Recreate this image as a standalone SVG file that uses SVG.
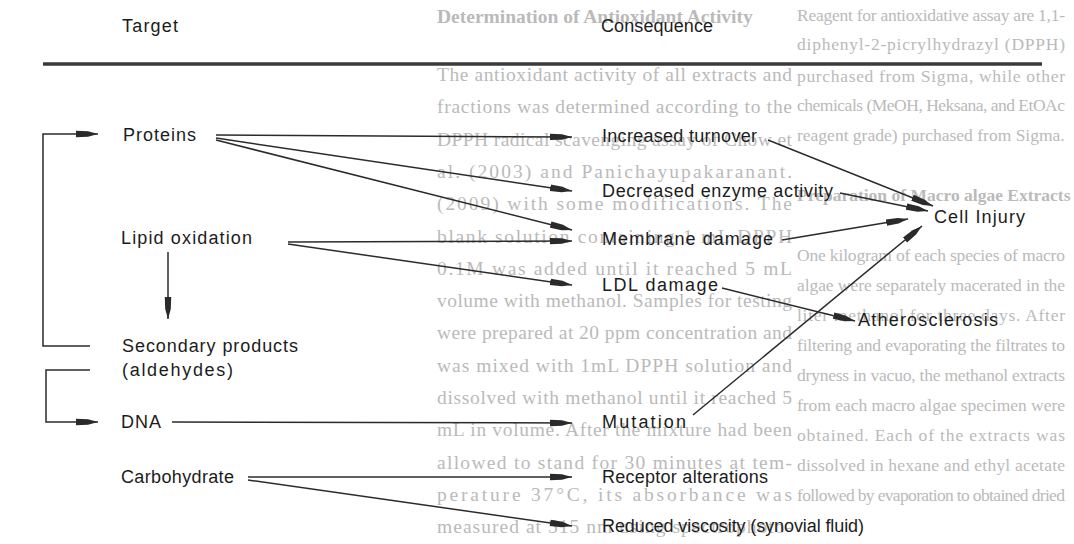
<svg xmlns="http://www.w3.org/2000/svg" width="1074" height="544" viewBox="0 0 1074 544">
<style>
.bgl{font-family:"Liberation Serif","Times New Roman",serif;font-size:19.5px;fill:#bababa}
.bgr{font-family:"Liberation Serif","Times New Roman",serif;font-size:17.5px;fill:#bababa}
.bh{font-weight:bold}
.lbl{font-family:"Liberation Sans",Arial,sans-serif;font-size:18px;fill:#1c1c1c}
.cn{fill:none;stroke:#2b2b2b;stroke-width:1.5;marker-end:url(#ah)}
</style>
<defs>
<marker id="ah" viewBox="0 0 22 10" refX="22" refY="5" markerWidth="22" markerHeight="10" markerUnits="userSpaceOnUse" orient="auto">
<path d="M0,1.8 L12,2.2 L22,5 L12,7.8 L0,8.2 Z" fill="#2a2a2a"/>
</marker>
</defs>
<rect width="1074" height="544" fill="#ffffff"/>
<g id="page-text">
<text class="bgl bh" x="437" y="23">Determination of Antioxidant Activity</text>
<text class="bgl" x="437" y="81" textLength="355" lengthAdjust="spacing">The antioxidant activity of all extracts and</text>
<text class="bgl" x="437" y="113.3" textLength="355" lengthAdjust="spacing">fractions was determined according to the</text>
<text class="bgl" x="437" y="145.6" textLength="355" lengthAdjust="spacing">DPPH radical scavenging assay of Chow et</text>
<text class="bgl" x="437" y="177.9" textLength="355" lengthAdjust="spacing">al. (2003) and Panichayupakaranant.</text>
<text class="bgl" x="437" y="210.2" textLength="355" lengthAdjust="spacing">(2009) with some modifications. The</text>
<text class="bgl" x="437" y="242.5" textLength="355" lengthAdjust="spacing">blank solution containing 1 mL DPPH</text>
<text class="bgl" x="437" y="274.8" textLength="355" lengthAdjust="spacing">0.1M was added until it reached 5 mL</text>
<text class="bgl" x="437" y="307.1" textLength="355" lengthAdjust="spacing">volume with methanol. Samples for testing</text>
<text class="bgl" x="437" y="339.4" textLength="355" lengthAdjust="spacing">were prepared at 20 ppm concentration and</text>
<text class="bgl" x="437" y="371.7" textLength="355" lengthAdjust="spacing">was mixed with 1mL DPPH solution and</text>
<text class="bgl" x="437" y="404" textLength="355" lengthAdjust="spacing">dissolved with methanol until it reached 5</text>
<text class="bgl" x="437" y="436.3" textLength="355" lengthAdjust="spacing">mL in volume. After the mixture had been</text>
<text class="bgl" x="437" y="468.6" textLength="355" lengthAdjust="spacing">allowed to stand for 30 minutes at tem-</text>
<text class="bgl" x="437" y="500.9" textLength="355" lengthAdjust="spacing">perature 37°C, its absorbance was</text>
<text class="bgl" x="437" y="533.2" textLength="355" lengthAdjust="spacing">measured at 515 nm using spectrophoto-</text>
<text class="bgr" x="797" y="21" textLength="268" lengthAdjust="spacing">Reagent for antioxidative assay are 1,1-</text>
<text class="bgr" x="797" y="50" textLength="268" lengthAdjust="spacing">diphenyl-2-picrylhydrazyl (DPPH)</text>
<text class="bgr" x="797" y="82" textLength="268" lengthAdjust="spacing">purchased from Sigma, while other</text>
<text class="bgr" x="797" y="111" textLength="268" lengthAdjust="spacing">chemicals (MeOH, Heksana, and EtOAc</text>
<text class="bgr" x="797" y="141">reagent grade) purchased from Sigma.</text>
<text class="bgr bh" x="797" y="201">Preparation of Macro algae Extracts</text>
<text class="bgr" x="797" y="261" textLength="268" lengthAdjust="spacing">One kilogram of each species of macro</text>
<text class="bgr" x="797" y="291" textLength="268" lengthAdjust="spacing">algae were separately macerated in the</text>
<text class="bgr" x="797" y="321" textLength="268" lengthAdjust="spacing">liter methanol for three days. After</text>
<text class="bgr" x="797" y="351" textLength="268" lengthAdjust="spacing">filtering and evaporating the filtrates to</text>
<text class="bgr" x="797" y="381" textLength="268" lengthAdjust="spacing">dryness in vacuo, the methanol extracts</text>
<text class="bgr" x="797" y="411" textLength="268" lengthAdjust="spacing">from each macro algae specimen were</text>
<text class="bgr" x="797" y="441" textLength="268" lengthAdjust="spacing">obtained. Each of the extracts was</text>
<text class="bgr" x="797" y="471" textLength="268" lengthAdjust="spacing">dissolved in hexane and ethyl acetate</text>
<text class="bgr" x="797" y="501" textLength="268" lengthAdjust="spacing">followed by evaporation to obtained dried</text>
</g>
<g id="header">
<text class="lbl" x="122" y="32" textLength="56" lengthAdjust="spacing">Target</text>
<text class="lbl" x="601" y="32" textLength="112" lengthAdjust="spacing">Consequence</text>
<line x1="43" y1="64" x2="1042" y2="64" stroke="#3a3a3a" stroke-width="3.5"/>
</g>
<g id="connectors">
<path class="cn" d="M90,346 H43 V134 H98"/>
<path class="cn" d="M90,370 H46 V422 H98"/>
<path class="cn" d="M168,252 V319"/>
<path class="cn" d="M216,135 L572,137"/>
<path class="cn" d="M216,138 L572,191"/>
<path class="cn" d="M216,140 L572,230"/>
<path class="cn" d="M288,242 L572,241"/>
<path class="cn" d="M288,244 L572,285"/>
<path class="cn" d="M172,422 L572,423"/>
<path class="cn" d="M248,477 L572,477"/>
<path class="cn" d="M248,480 L572,526"/>
<path class="cn" d="M768,140 L933,206"/>
<path class="cn" d="M840,193 L928,211"/>
<path class="cn" d="M782,240 L908,219"/>
<path class="cn" d="M693,415 L922,226"/>
<path class="cn" d="M722,288 L855,321"/>
</g>
<g id="node-proteins"><text class="lbl" x="123" y="141" textLength="73" lengthAdjust="spacing">Proteins</text></g>
<g id="node-lipid"><text class="lbl" x="121" y="244" textLength="131" lengthAdjust="spacing">Lipid oxidation</text></g>
<g id="node-secondary"><text class="lbl" x="122" y="352" textLength="176" lengthAdjust="spacing">Secondary products</text><text class="lbl" x="122" y="376" textLength="111" lengthAdjust="spacing">(aldehydes)</text></g>
<g id="node-dna"><text class="lbl" x="121" y="428" textLength="40" lengthAdjust="spacing">DNA</text></g>
<g id="node-carbohydrate"><text class="lbl" x="121" y="483" textLength="113" lengthAdjust="spacing">Carbohydrate</text></g>
<g id="node-turnover"><text class="lbl" x="602" y="142" textLength="155" lengthAdjust="spacing">Increased turnover</text></g>
<g id="node-enzyme"><text class="lbl" x="602" y="197" textLength="231" lengthAdjust="spacing">Decreased enzyme activity</text></g>
<g id="node-membrane"><text class="lbl" x="602" y="245" textLength="171" lengthAdjust="spacing">Membrane damage</text></g>
<g id="node-ldl"><text class="lbl" x="602" y="291" textLength="116" lengthAdjust="spacing">LDL damage</text></g>
<g id="node-mutation"><text class="lbl" x="602" y="428" textLength="84" lengthAdjust="spacing">Mutation</text></g>
<g id="node-receptor"><text class="lbl" x="602" y="483" textLength="166" lengthAdjust="spacing">Receptor alterations</text></g>
<g id="node-viscosity"><text class="lbl" x="602" y="532" textLength="262" lengthAdjust="spacing">Reduced viscosity (synovial fluid)</text></g>
<g id="node-cellinjury"><text class="lbl" x="934" y="223" textLength="91" lengthAdjust="spacing">Cell Injury</text></g>
<g id="node-atherosclerosis"><text class="lbl" x="858" y="326" textLength="140" lengthAdjust="spacing">Atherosclerosis</text></g>
</svg>
